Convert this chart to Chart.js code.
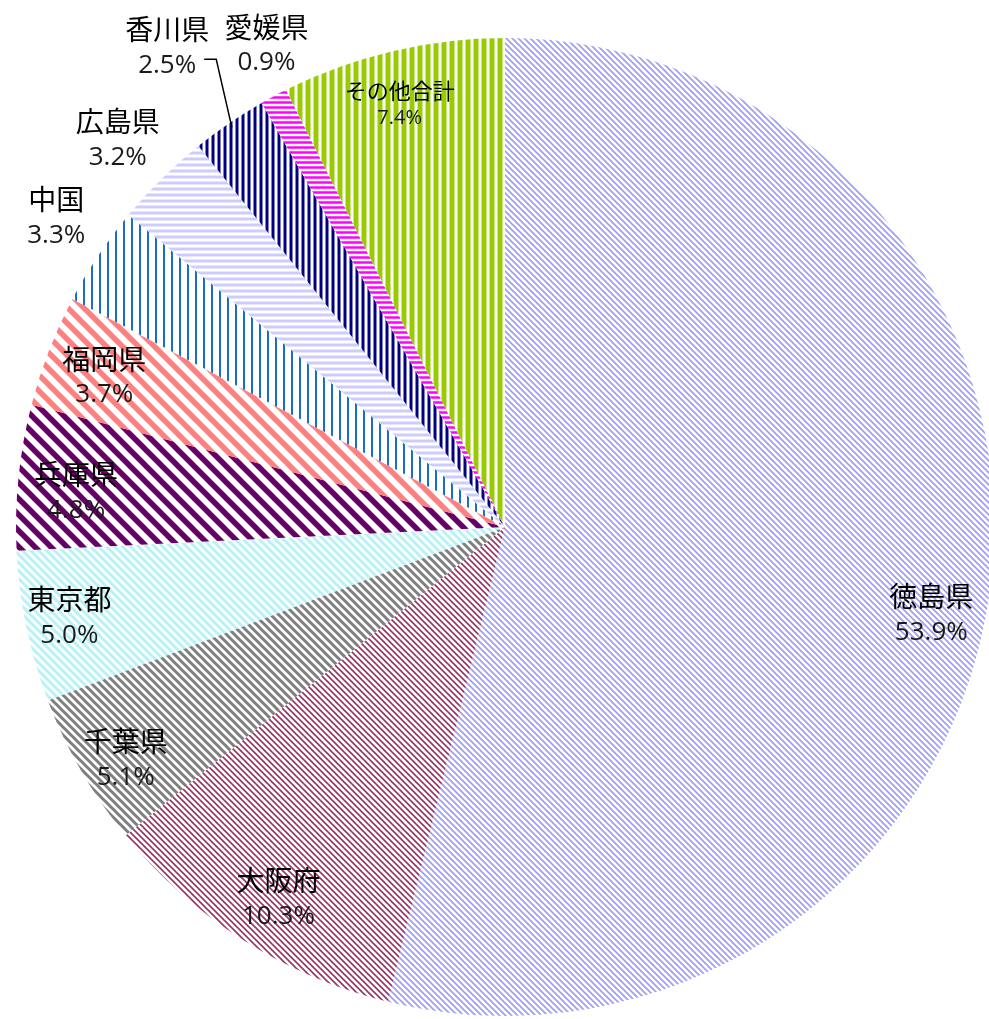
<!DOCTYPE html>
<html>
<head>
<meta charset="utf-8">
<script src="https://cdn.jsdelivr.net/npm/chart.js@4.4.1/dist/chart.umd.min.js"></script>
<style>
  html, body { margin: 0; padding: 0; background: #fff; overflow: hidden; }
  #wrap { position: absolute; left: 0; top: 0; width: 1010px; height: 1019px; }
</style>
</head>
<body>
<div id="wrap"><canvas id="pieChart" width="1010" height="1019"></canvas></div>
<script>
// Data
const categories = ['徳島県', '大阪府', '千葉県', '東京都', '兵庫県', '福岡県', '中国', '広島県', '香川県', '愛媛県', 'その他合計'];
const shares = [53.9, 10.3, 5.1, 5.0, 4.8, 3.7, 3.3, 3.2, 2.5, 0.9, 7.4];

// Label layout (radius factor, angle nudge in degrees)
const labelRadius = [0.89, 0.89, 0.91, 0.91, 0.88, 0.875, 1.115, 1.12, 1.2, 1.1, 0.89];
const labelNudge = [4.7, -1, -1.6, 0, -1.2, -0.6, 0.9, -0.4, -0.8, 1.9, -0.7];

// Hatch patterns, similar to the Excel pattern fills
function makePattern(color, type, size, width) {
    const c = document.createElement('canvas');
    c.width = size;
    c.height = size;
    const g = c.getContext('2d');
    g.fillStyle = '#fff';
    g.fillRect(0, 0, size, size);
    g.strokeStyle = color;
    g.lineWidth = width;
    g.beginPath();
    if (type === 'diag') {
        for (let k = -1; k <= 1; k++) {
            g.moveTo(-2, -2 + k * size);
            g.lineTo(size + 2, size + 2 + k * size);
        }
    } else if (type === 'vert') {
        g.moveTo(size / 2, 0);
        g.lineTo(size / 2, size);
    } else {
        g.moveTo(0, size / 2);
        g.lineTo(size, size / 2);
    }
    g.stroke();
    return g.createPattern(c, 'repeat');
}

const fills = [
    makePattern('#9c9cf0', 'diag', 6, 1.6),
    makePattern('#993366', 'diag', 6, 1.6),
    makePattern('#7f7f7f', 'diag', 8, 3),
    makePattern('#b8f2f6', 'diag', 8, 3),
    makePattern('#660066', 'diag', 16, 5.5),
    makePattern('#ff8080', 'diag', 16, 5.5),
    makePattern('#1a6fc4', 'vert', 8, 2),
    makePattern('#ccccff', 'horz', 6, 3),
    makePattern('#000080', 'vert', 6, 3),
    makePattern('#ff00ff', 'horz', 5, 2.5),
    makePattern('#99cc00', 'vert', 8, 5)
];

// Slice labels
const sliceLabels = {
    id: 'sliceLabels',
    afterDatasetsDraw(chart) {
        const ctx = chart.ctx;
        const meta = chart.getDatasetMeta(0);
        ctx.save();
        ctx.textAlign = 'center';
        ctx.textBaseline = 'middle';
        meta.data.forEach((arc, i) => {
            const p = arc.getProps(['x', 'y', 'startAngle', 'endAngle', 'outerRadius'], true);
            const mid = (p.startAngle + p.endAngle) / 2;
            const ang = mid + labelNudge[i] * Math.PI / 180;
            const r = p.outerRadius * labelRadius[i];
            const x = p.x + Math.cos(ang) * r;
            const y = p.y + Math.sin(ang) * r;
            const small = i === categories.length - 1;
            const gap = small ? 14 : 18;
            ctx.fillStyle = '#000';
            ctx.font = (small ? '22px' : '28px') + ' "Noto Sans CJK JP"';
            ctx.fillText(categories[i], x, y - gap);
            ctx.fillStyle = '#1a1a1a';
            ctx.font = (small ? '20px' : '26px') + ' "Open Sans", "Noto Sans CJK JP"';
            ctx.fillText(shares[i].toFixed(1) + '%', x, y + gap);

            // leader line for the small 香川県 slice
            if (categories[i] === '香川県') {
                const ex = p.x + Math.cos(mid) * p.outerRadius * 0.99;
                const ey = p.y + Math.sin(mid) * p.outerRadius * 0.99;
                ctx.strokeStyle = '#000';
                ctx.lineWidth = 1.5;
                ctx.beginPath();
                ctx.moveTo(x + 37, y + gap - 6);
                ctx.lineTo(x + 49, y + gap - 6);
                ctx.lineTo(ex, ey);
                ctx.stroke();
            }
        });
        ctx.restore();
    }
};

const pieChart = new Chart(document.getElementById('pieChart'), {
    type: 'pie',
    data: {
        labels: categories,
        datasets: [{
            data: shares,
            backgroundColor: fills,
            borderWidth: 0
        }]
    },
    options: {
        responsive: false,
        animation: false,
        devicePixelRatio: 1,
        layout: {
            padding: { top: 38, bottom: 3, left: 0, right: 0 }
        },
        plugins: {
            legend: { display: false },
            tooltip: { enabled: false }
        }
    },
    plugins: [sliceLabels]
});
</script>
</body>
</html>
